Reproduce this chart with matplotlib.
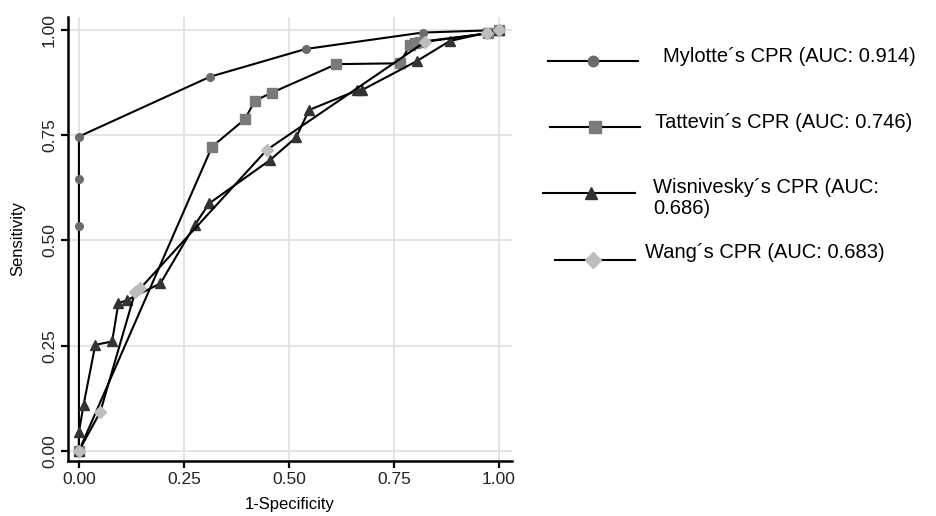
import matplotlib
matplotlib.use("Agg")
import matplotlib.pyplot as plt

plt.rcParams["font.family"] = ["Liberation Sans", "DejaVu Sans"]

# ROC curve points (1-specificity, sensitivity)
mylotte_x = [0, 0, 0, 0, 0.312, 0.540, 0.818, 1.0]
mylotte_y = [0, 0.535, 0.645, 0.747, 0.889, 0.955, 0.994, 1.0]

tattevin_x = [0, 0.317, 0.395, 0.419, 0.459, 0.613, 0.764, 0.788, 0.800, 0.812, 0.974, 1.0]
tattevin_y = [0, 0.723, 0.788, 0.832, 0.851, 0.919, 0.921, 0.964, 0.969, 0.972, 0.992, 1.0]

wisnivesky_x = [0, 0, 0.011, 0.039, 0.079, 0.094, 0.114, 0.194, 0.276, 0.310,
                0.455, 0.517, 0.548, 0.663, 0.673, 0.804, 0.883, 1.0]
wisnivesky_y = [0, 0.045, 0.109, 0.252, 0.260, 0.351, 0.358, 0.398, 0.537, 0.588,
                0.691, 0.745, 0.810, 0.857, 0.857, 0.926, 0.974, 1.0]

wang_x = [0, 0.051, 0.134, 0.146, 0.447, 0.824, 0.971, 1.0]
wang_y = [0, 0.093, 0.378, 0.386, 0.715, 0.972, 0.992, 1.0]

labels = ["Mylotte\u00b4s CPR (AUC: 0.914)",
          "Tattevin\u00b4s CPR (AUC: 0.746)",
          "Wisnivesky\u00b4s CPR (AUC:\n0.686)",
          "Wang\u00b4s CPR (AUC: 0.683)"]
ticks = [0, 0.25, 0.5, 0.75, 1.0]
tick_labels = ["0.00", "0.25", "0.50", "0.75", "1.00"]

styles = [("o", "#6b6b6b", 5.5),
          ("s", "#7a7a7a", 6.5),
          ("^", "#333333", 7),
          ("D", "#bdbdbd", 6)]

fig = plt.figure(figsize=(9.36, 5.16), dpi=100)
ax = fig.add_axes([68 / 936, 55 / 516, 444 / 936, 444 / 516])

series = [(mylotte_x, mylotte_y), (tattevin_x, tattevin_y),
          (wisnivesky_x, wisnivesky_y), (wang_x, wang_y)]
for (xs, ys), (m, c, ms) in zip(series, styles):
    ax.plot(xs, ys, color="black", lw=1.5, marker=m, markersize=ms,
            markerfacecolor=c, markeredgecolor=c, zorder=3)

ax.set_xlim(-0.026, 1.031)
ax.set_ylim(-0.024, 1.031)
ax.set_xticks(ticks)
ax.set_xticklabels(tick_labels)
ax.set_yticks(ticks)
ax.set_yticklabels(tick_labels, rotation=90, va="center")
ax.grid(True, color="#e2e2e2", lw=1.3)
ax.set_axisbelow(True)
for s in ["top", "right"]:
    ax.spines[s].set_visible(False)
for s in ["left", "bottom"]:
    ax.spines[s].set_linewidth(1.8)
ax.tick_params(length=5, width=1.6, labelsize=12.5, colors="black",
               labelcolor="#222222", pad=3)
ax.set_xlabel("1-Specificity", fontsize=12, labelpad=7)
ax.set_ylabel("Sensitivity", fontsize=12, labelpad=12)

# legend drawn by hand in pixel coordinates on an overlay
lg = fig.add_axes([0, 0, 1, 1])
lg.set_xlim(0, 936)
lg.set_ylim(516, 0)
lg.axis("off")
rows = [(548, 638, 593, 61, 663, 57),
        (550, 640, 595, 127, 655, 122),
        (543, 635, 591, 193, 653, 198),
        (555, 635, 593, 260, 645, 252)]
for (x0, x1, xm, y, tx, ty), (m, c, ms), lab in zip(rows, styles, labels):
    lg.plot([x0, x1], [y, y], color="black", lw=1.5)
    lg.plot([xm], [y], marker=m, markersize=ms + 2, color=c)
    lg.text(tx, ty, lab, fontsize=14.5, va="center", ha="left",
            linespacing=1.1)

fig.savefig("out.png", dpi=100)
